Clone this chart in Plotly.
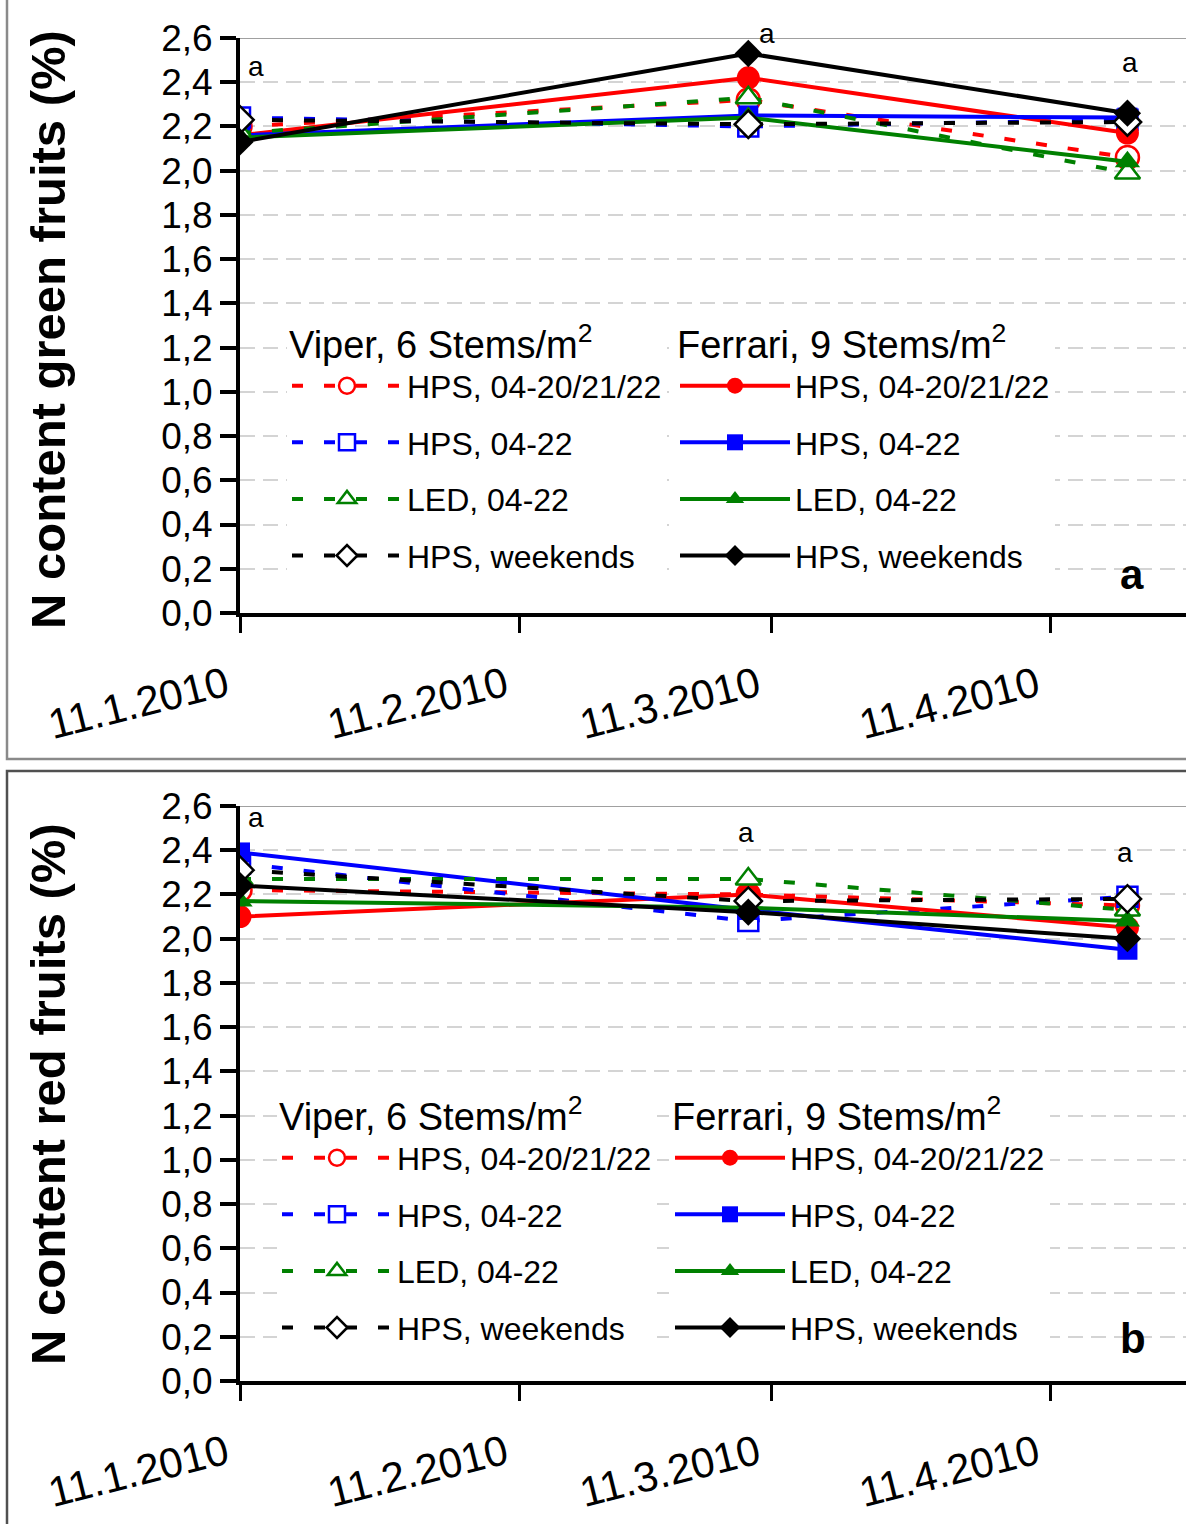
import plotly.graph_objects as go

# ---------------- data ----------------
dates = ["2010-01-11", "2010-03-08 10:00", "2010-04-19 12:00"]
tick_vals = ["2010-01-11", "2010-02-11", "2010-03-11", "2010-04-11"]
tick_text = ["11.1.2010", "11.2.2010", "11.3.2010", "11.4.2010"]
y_tick_vals = [0.0, 0.2, 0.4, 0.6, 0.8, 1.0, 1.2, 1.4, 1.6, 1.8, 2.0, 2.2, 2.4, 2.6]

series_names = ["HPS, 04-20/21/22", "HPS, 04-22", "LED, 04-22", "HPS, weekends"]
series_colors = ["#FF0000", "#0000FF", "#008000", "#000000"]
series_symbols = ["circle", "square", "triangle-up", "diamond"]
series_sizes = [23, 20, 22, 21]

# N content green fruits (%)
green_viper = [
    [2.20, 2.32, 2.06],   # HPS, 04-20/21/22
    [2.24, 2.20, 2.23],   # HPS, 04-22
    [2.17, 2.33, 1.99],   # LED, 04-22
    [2.23, 2.21, 2.22],   # HPS, weekends
]
green_ferrari = [
    [2.16, 2.42, 2.17],
    [2.16, 2.25, 2.24],
    [2.15, 2.24, 2.04],
    [2.13, 2.53, 2.26],
]
green_letters = ["a", "a", "a"]
green_letter_y = [2.47, 2.62, 2.49]
green_letter_xshift = [16, 19, 3]

# N content red fruits (%)
red_viper = [
    [2.22, 2.20, 2.15],
    [2.34, 2.08, 2.19],
    [2.27, 2.27, 2.13],
    [2.31, 2.17, 2.18],
]
red_ferrari = [
    [2.10, 2.20, 2.05],
    [2.39, 2.13, 1.95],
    [2.17, 2.14, 2.08],
    [2.24, 2.12, 2.00],
]
red_letters = ["a", "a", "a"]
red_letter_y = [2.55, 2.48, 2.39]
red_letter_xshift = [16, -2, -2]

Y_MAX = 2.6
PX_PER_UNIT = 575 / 2.6

FONT = "Liberation Sans, Arial, sans-serif"
W, H = 1186, 1524

fig = go.Figure()


def add_panel(viper, ferrari, xa, ya, leg_v, leg_f):
    order = [(0, "v"), (1, "v"), (0, "f"), (1, "f"), (2, "v"), (2, "f"), (3, "v"), (3, "f")]
    for i, kind in order:
        if kind == "v":
            fig.add_trace(go.Scatter(
                x=dates, y=viper[i], mode="lines+markers", name=series_names[i],
                xaxis=xa, yaxis=ya, legend=leg_v, legendgroup=leg_v + str(i),
                legendrank=i + 1,
                line=dict(color=series_colors[i], width=4, dash="11px,21px"),
                marker=dict(symbol=series_symbols[i], size=series_sizes[i], color="white",
                            line=dict(color=series_colors[i], width=2.5)),
            ))
        else:
            fig.add_trace(go.Scatter(
                x=dates, y=ferrari[i], mode="lines+markers", name=series_names[i],
                xaxis=xa, yaxis=ya, legend=leg_f, legendgroup=leg_f + str(i),
                legendrank=i + 1,
                line=dict(color=series_colors[i], width=4),
                marker=dict(symbol=series_symbols[i], size=series_sizes[i], color=series_colors[i],
                            line=dict(color=series_colors[i], width=0)),
            ))


add_panel(green_viper, green_ferrari, "x", "y", "legend", "legend2")
add_panel(red_viper, red_ferrari, "x2", "y2", "legend3", "legend4")

x_dom = [240 / W, 1.0]
top_dom = [1 - 613 / H, 1 - 38 / H]
bot_dom = [1 - 1381 / H, 1 - 806 / H]

xcommon = dict(
    type="date", range=["2010-01-11", "2010-04-26"],
    tickmode="array", tickvals=tick_vals, ticktext=tick_text,
    tickangle=-14, tickfont=dict(family=FONT, size=42, color="black"),
    ticks="outside", ticklen=16, tickwidth=3, tickcolor="black",
    showline=True, linecolor="black", linewidth=4,
    showgrid=False, zeroline=False, ticklabelstandoff=12, ticklabelshift=-14,
    automargin=False,
)
ycommon = dict(
    range=[0, Y_MAX], tickmode="array", tickvals=y_tick_vals,
    tickformat=".1f", tickfont=dict(family=FONT, size=37, color="black"),
    ticks="outside", ticklen=16, tickwidth=4, tickcolor="black",
    showline=True, linecolor="black", linewidth=4,
    showgrid=True, gridcolor="#d4d4d4", gridwidth=2, griddash="15px,8px",
    zeroline=False, automargin=False,
)

legend_common = dict(
    bgcolor="white", borderwidth=0, font=dict(family=FONT, size=32, color="black"),
    itemwidth=110, tracegroupgap=12, xanchor="left", yanchor="top",
    itemclick=False, itemdoubleclick=False,
)
title_font = dict(family=FONT, size=38, color="black")

fig.update_layout(
    template="none",
    width=W, height=H, margin=dict(l=0, r=0, t=0, b=0, pad=0, autoexpand=False),
    paper_bgcolor="white", plot_bgcolor="white",
    separators=",.", showlegend=True,
    xaxis=dict(domain=x_dom, anchor="y", **xcommon),
    yaxis=dict(domain=top_dom, anchor="x", **ycommon),
    xaxis2=dict(domain=x_dom, anchor="y2", **xcommon),
    yaxis2=dict(domain=bot_dom, anchor="x2", **ycommon),
    legend=dict(x=287 / W, y=1 - 309 / H,
                title=dict(text="Viper, 6 Stems/m<sup>2</sup>", font=title_font), **legend_common),
    legend2=dict(x=675 / W, y=1 - 309 / H,
                 title=dict(text="Ferrari, 9 Stems/m<sup>2</sup>", font=title_font), **legend_common),
    legend3=dict(x=277 / W, y=1 - 1081 / H,
                 title=dict(text="Viper, 6 Stems/m<sup>2</sup>", font=title_font), **legend_common),
    legend4=dict(x=670 / W, y=1 - 1081 / H,
                 title=dict(text="Ferrari, 9 Stems/m<sup>2</sup>", font=title_font), **legend_common),
)

# plot-area top border lines
for xd, ya in [("x domain", "y"), ("x2 domain", "y2")]:
    fig.add_shape(type="line", xref=xd, yref=ya,
                  x0=0, x1=1, y0=Y_MAX, y1=Y_MAX, line=dict(color="#a0a0a0", width=2))

# panel frames
fig.add_shape(type="rect", xref="paper", yref="paper", x0=7 / W, x1=1.01, y0=1 - 759 / H, y1=1.01,
              line=dict(color="#8a8a8a", width=2.5), layer="below")
fig.add_shape(type="rect", xref="paper", yref="paper", x0=7 / W, x1=1.01, y0=-0.01, y1=1 - 771 / H,
              line=dict(color="#505050", width=2.5), layer="below")


def add_letter(xref, yref, xval, yval, text, xshift):
    yv = min(yval, Y_MAX)
    fig.add_annotation(x=xval, y=yv, xref=xref, yref=yref, text=text,
                       showarrow=False, xshift=xshift, yshift=(yval - yv) * PX_PER_UNIT,
                       xanchor="center", yanchor="middle",
                       font=dict(family=FONT, size=28, color="black"))


# significance letters
for j in range(3):
    add_letter("x", "y", dates[j], green_letter_y[j], green_letters[j], green_letter_xshift[j])
    add_letter("x2", "y2", dates[j], red_letter_y[j], red_letters[j], red_letter_xshift[j])

# panel letters
fig.add_annotation(x=1132 / W, y=1 - 575 / H, xref="paper", yref="paper", text="<b>a</b>",
                   xanchor="center", yanchor="middle",
                   showarrow=False, font=dict(family=FONT, size=42, color="black"))
fig.add_annotation(x=1133 / W, y=1 - 1338 / H, xref="paper", yref="paper", text="<b>b</b>",
                   xanchor="center", yanchor="middle",
                   showarrow=False, font=dict(family=FONT, size=42, color="black"))

# y-axis titles
fig.add_annotation(x=48 / W, y=1 - 330 / H, xref="paper", yref="paper",
                   xanchor="center", yanchor="middle",
                   text="<b>N content green fruits (%)</b>", textangle=-90, showarrow=False,
                   font=dict(family=FONT, size=49, color="black"))
fig.add_annotation(x=48 / W, y=1 - 1094 / H, xref="paper", yref="paper",
                   xanchor="center", yanchor="middle",
                   text="<b>N content red fruits (%)</b>", textangle=-90, showarrow=False,
                   font=dict(family=FONT, size=49, color="black"))

fig.write_html("out.html")
